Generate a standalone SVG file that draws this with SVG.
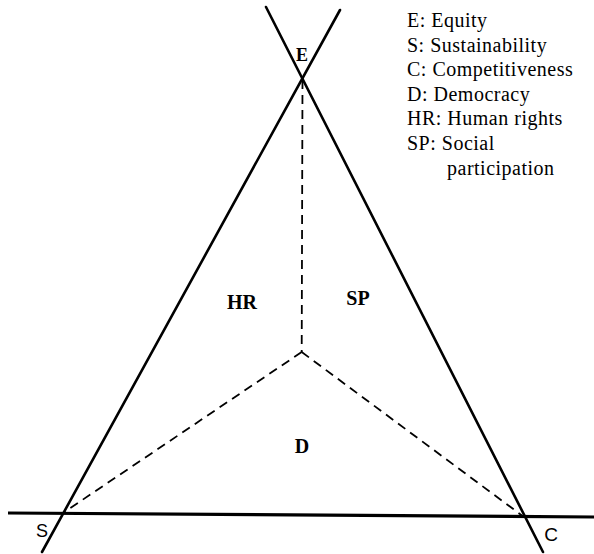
<svg xmlns="http://www.w3.org/2000/svg" width="594" height="554" viewBox="0 0 594 554">
<style>
.solid{stroke:#000;stroke-width:2.6;fill:none;stroke-linecap:round}
.base{stroke:#000;stroke-width:3.2;fill:none}
.dash{stroke:#000;stroke-width:1.8;fill:none;stroke-dasharray:9 6}
.leg{font-family:"Liberation Serif",serif;font-size:20px;letter-spacing:0.5px;fill:#000}
.lab{font-family:"Liberation Serif",serif;font-size:20px;font-weight:bold;fill:#000;text-anchor:middle}
.corner{font-family:"Liberation Sans",sans-serif;font-size:18px;fill:#000;text-anchor:middle}
</style>
<rect width="594" height="554" fill="#fff"/>
<g id="connectors">
  <line class="solid" x1="266" y1="7" x2="543" y2="552"/>
  <line class="solid" x1="340" y1="10" x2="42" y2="552"/>
  <line class="base" x1="8" y1="513" x2="594" y2="517"/>
  <line class="dash" x1="302.5" y1="80" x2="301.7" y2="352"/>
  <line class="dash" x1="301.7" y1="352" x2="63" y2="513"/>
  <line class="dash" x1="301.7" y1="352" x2="524" y2="517"/>
</g>
<g id="node-E"><text class="lab" x="302" y="61" style="font-size:18px">E</text></g>
<g id="node-S"><text class="corner" x="42" y="537">S</text></g>
<g id="node-C"><text class="corner" x="551" y="541" style="font-size:19px">C</text></g>
<g id="region-HR"><text class="lab" x="242" y="309">HR</text></g>
<g id="region-SP"><text class="lab" x="358" y="305">SP</text></g>
<g id="region-D"><text class="lab" x="302" y="453">D</text></g>
<g id="legend">
  <text class="leg" x="407" y="26.5">E: Equity</text>
  <text class="leg" x="407" y="51.5">S: Sustainability</text>
  <text class="leg" x="407" y="76">C: Competitiveness</text>
  <text class="leg" x="407" y="100.5">D: Democracy</text>
  <text class="leg" x="407" y="125">HR: Human rights</text>
  <text class="leg" x="407" y="150">SP: Social</text>
  <text class="leg" x="447" y="175">participation</text>
</g>
</svg>
